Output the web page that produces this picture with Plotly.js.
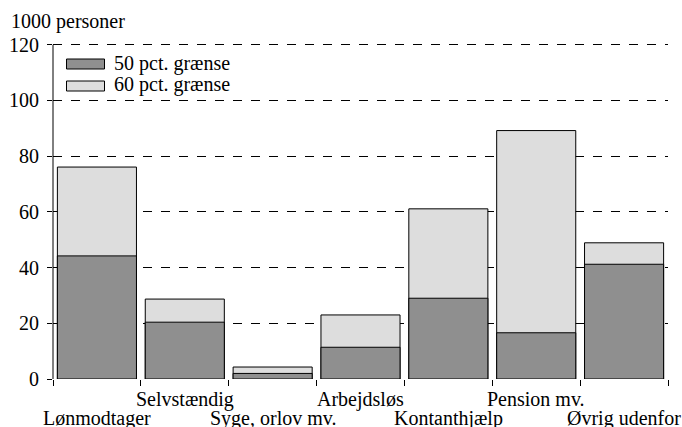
<!DOCTYPE html>
<html>
<head>
<meta charset="utf-8">
<script src="https://cdn.plot.ly/plotly-3.0.1.min.js"></script>
<style>html,body{margin:0;padding:0;background:#fff;}#chart{width:682px;height:427px;}</style>
</head>
<body>
<div id="chart"></div>
<script>
const categories = ["Lønmodtager", "Selvstændig", "Syge, orlov mv.", "Arbejdsløs", "Kontanthjælp", "Pension mv.", "Øvrig udenfor"];
const pct50 = [44.2, 20.4, 2.0, 11.4, 29.0, 16.6, 41.2];
const pct60 = [76.1, 28.7, 4.3, 23.0, 61.1, 89.2, 48.9];
const seriesNames = ["50 pct. grænse", "60 pct. grænse"];
const yTicks = [0, 20, 40, 60, 80, 100, 120];
const yUnit = "1000 personer";

const darkCol = "#8f8f8f";
const lightCol = "#dddddd";
const FAM = "Liberation Serif";
const FS = 20;

// plot area in pixels
const PL = 53, PR = 668, P0 = 379, YMAX = 121;
const PT = 42; // top of plot (y=121)
const pxY = v => 1 - (v - PT) / (P0 - PT);
const pxX = v => (v - PL) / (PR - PL);

const traces = [
  {type: "bar", x: categories, y: pct60, name: seriesNames[1], marker: {color: lightCol, line: {color: "#000", width: 1}}, showlegend: false, hoverinfo: "none"},
  {type: "bar", x: categories, y: pct50, name: seriesNames[0], marker: {color: darkCol, line: {color: "#000", width: 1}}, showlegend: false, hoverinfo: "none"}
];

const legendItems = [
  {name: seriesNames[0], color: darkCol},
  {name: seriesNames[1], color: lightCol}
];
const shapes = [];
const annotations = [
  {xref: "paper", yref: "paper", x: pxX(9), y: pxY(22), xanchor: "left", yanchor: "middle", text: yUnit, showarrow: false, font: {family: FAM, size: FS, color: "#000"}}
];
legendItems.forEach((it, i) => {
  const top = 59 + i * 22;
  shapes.push({type: "rect", xref: "paper", yref: "paper", x0: pxX(66.5), x1: pxX(104.5), y0: pxY(top + 10), y1: pxY(top), fillcolor: it.color, line: {color: "#000", width: 1}});
  annotations.push({xref: "paper", yref: "paper", x: pxX(112), y: pxY(top + 4), xanchor: "left", yanchor: "middle", text: it.name, showarrow: false, font: {family: FAM, size: FS, color: "#000"}});
});
// category labels, staggered on two rows
categories.forEach((c, i) => {
  annotations.push({xref: "x", yref: "paper", x: c, y: pxY(i % 2 === 0 ? 418 : 399), xanchor: "center", yanchor: "middle", text: c, showarrow: false, font: {family: FAM, size: FS, color: "#000"}});
});

const layout = {
  width: 682, height: 427,
  margin: {l: PL, r: 682 - PR, t: PT, b: 427 - P0},
  paper_bgcolor: "#fff", plot_bgcolor: "#fff",
  barmode: "overlay", bargap: 0.1,
  font: {family: FAM, size: FS, color: "#000"},
  xaxis: {
    type: "category", tickvals: categories, showticklabels: false,
    range: [-0.5, categories.length - 0.5], autorange: false,
    tickson: "boundaries", ticks: "outside", ticklen: 6, tickcolor: "#000", tickwidth: 1,
    showgrid: false, showline: false, zeroline: false, fixedrange: true
  },
  yaxis: {
    range: [0, YMAX], tickvals: yTicks, ticks: "outside", ticklen: 5, tickcolor: "#000",
    ticklabelstandoff: 4,
    showgrid: true, gridcolor: "#000", griddash: "dash", gridwidth: 1,
    zeroline: false, showline: false,
    tickfont: {family: FAM, size: FS, color: "#000"}, fixedrange: true
  },
  shapes: shapes.concat([
    {type: "line", xref: "paper", yref: "y", x0: 0, x1: 0, y0: 0, y1: yTicks[yTicks.length - 1], line: {color: "#000", width: 1}}
  ]),
  annotations: annotations,
  showlegend: false
};

Plotly.newPlot("chart", traces, layout, {displayModeBar: false, staticPlot: true});
</script>
</body>
</html>
